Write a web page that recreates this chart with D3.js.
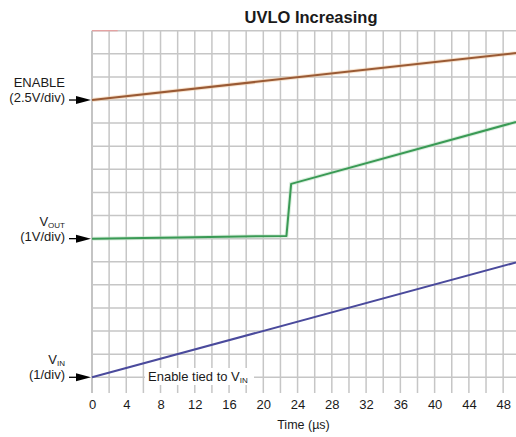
<!DOCTYPE html>
<html>
<head>
<meta charset="utf-8">
<script src="https://cdn.jsdelivr.net/npm/d3@7"></script>
<style>
  body { margin: 0; background: #fff; }
  svg text { font-family: "Liberation Sans", Arial, sans-serif; fill: #1a1a1a; }
</style>
</head>
<body>
<svg id="chart" width="516" height="437"></svg>
<script>
// ---- data (time in µs, level in scope divisions above VIN ground) ----
const timeTicks = [0, 4, 8, 12, 16, 20, 24, 28, 32, 36, 40, 44, 48];
const enableT = [0, 49.5];
const enableV = [12.0, 14.03];
const voutT = [0, 10, 22.7, 23.25, 49.5];
const voutV = [6.0, 6.05, 6.12, 8.37, 11.05];
const vinT = [0, 49.5];
const vinV = [0.0, 4.97];
const channelLabels = [
  { line1: "ENABLE", sub: "", line2: "(2.5V/div)", level: 12 },
  { line1: "V", sub: "OUT", line2: "(1V/div)", level: 6 },
  { line1: "V", sub: "IN", line2: "(1/div)", level: 0 }
];

const svg = d3.select("#chart");
const x = d3.scaleLinear().domain([0, 49.5]).range([92, 516]);
const y = d3.scaleLinear().domain([-0.68, 15]).range([393, 30.7]);

// grid
const gridColor = "#c6c6c6";
const g = svg.append("g");
g.selectAll("line.v").data(d3.range(0, 49.6, 2)).join("line")
  .attr("x1", d => x(d)).attr("x2", d => x(d))
  .attr("y1", y(15)).attr("y2", y(-0.68))
  .attr("stroke", d => d === 0 ? "#b0b0b0" : gridColor).attr("stroke-width", 1.5);
g.selectAll("line.h").data(d3.range(0, 15.01, 1)).join("line")
  .attr("x1", x(0)).attr("x2", x(49.5))
  .attr("y1", d => y(d)).attr("y2", d => y(d))
  .attr("stroke", gridColor).attr("stroke-width", 1.5);
// small red marker at top-left
svg.append("line").attr("x1", x(0)).attr("x2", x(3)).attr("y1", y(15)).attr("y2", y(15))
  .attr("stroke", "#e8a0a0").attr("stroke-width", 1.2);

// x axis (labels only)
const xAxis = d3.axisBottom(x).tickValues(timeTicks).tickSize(0).tickPadding(0);
const ax = svg.append("g").attr("transform", "translate(0,400)").call(xAxis);
ax.select(".domain").remove();
ax.selectAll("text").attr("font-size", 13).attr("fill", "#1a1a1a")
  .style("font-family", '"Liberation Sans", Arial, sans-serif');
svg.append("text").attr("x", 303.5).attr("y", 429).attr("text-anchor", "middle")
  .attr("font-size", 12.5).text("Time (µs)");

// title
svg.append("text").attr("x", 311).attr("y", 23).attr("text-anchor", "middle")
  .attr("font-size", 16.5).attr("font-weight", "bold").text("UVLO Increasing");

// traces
const line = d3.line().x(d => x(d[0])).y(d => y(d[1]));
function trace(T, V, color, halo) {
  const pts = T.map((t, i) => [t, V[i]]);
  if (halo) svg.append("path").datum(pts).attr("d", line).attr("fill", "none")
    .attr("stroke", halo).attr("stroke-width", 4).attr("stroke-opacity", 0.5);
  svg.append("path").datum(pts).attr("d", line).attr("fill", "none")
    .attr("stroke", color).attr("stroke-width", 2).attr("stroke-linejoin", "round");
}
trace(enableT, enableV, "#9a5a34", "#f0c8a0");
trace(voutT, voutV, "#3a9a55", "#b8e0c0");
trace(vinT, vinV, "#4a4a9c", null);

// annotation with white background
const ann = svg.append("g");
ann.append("rect").attr("x", 145).attr("y", 368).attr("width", 109).attr("height", 17).attr("fill", "#fff");
const at = ann.append("text").attr("x", 148).attr("y", 381).attr("font-size", 13);
at.append("tspan").text("Enable tied to V");
at.append("tspan").attr("font-size", 8).attr("dy", 2).text("IN");

// channel labels + arrows
channelLabels.forEach(c => {
  const yy = y(c.level);
  const t1 = svg.append("text").attr("x", 65).attr("y", yy - 13).attr("text-anchor", "end").attr("font-size", 13);
  t1.append("tspan").text(c.line1);
  if (c.sub) t1.append("tspan").attr("font-size", 8).attr("dy", 2).text(c.sub);
  svg.append("text").attr("x", 65).attr("y", yy + 2).attr("text-anchor", "end").attr("font-size", 13).text(c.line2);
  svg.append("line").attr("x1", 69).attr("x2", 78).attr("y1", yy).attr("y2", yy)
    .attr("stroke", "#000").attr("stroke-width", 1.3);
  svg.append("path").attr("d", `M76,${yy - 4}L91,${yy}L76,${yy + 4}Z`).attr("fill", "#000");
});
</script>
</body>
</html>
